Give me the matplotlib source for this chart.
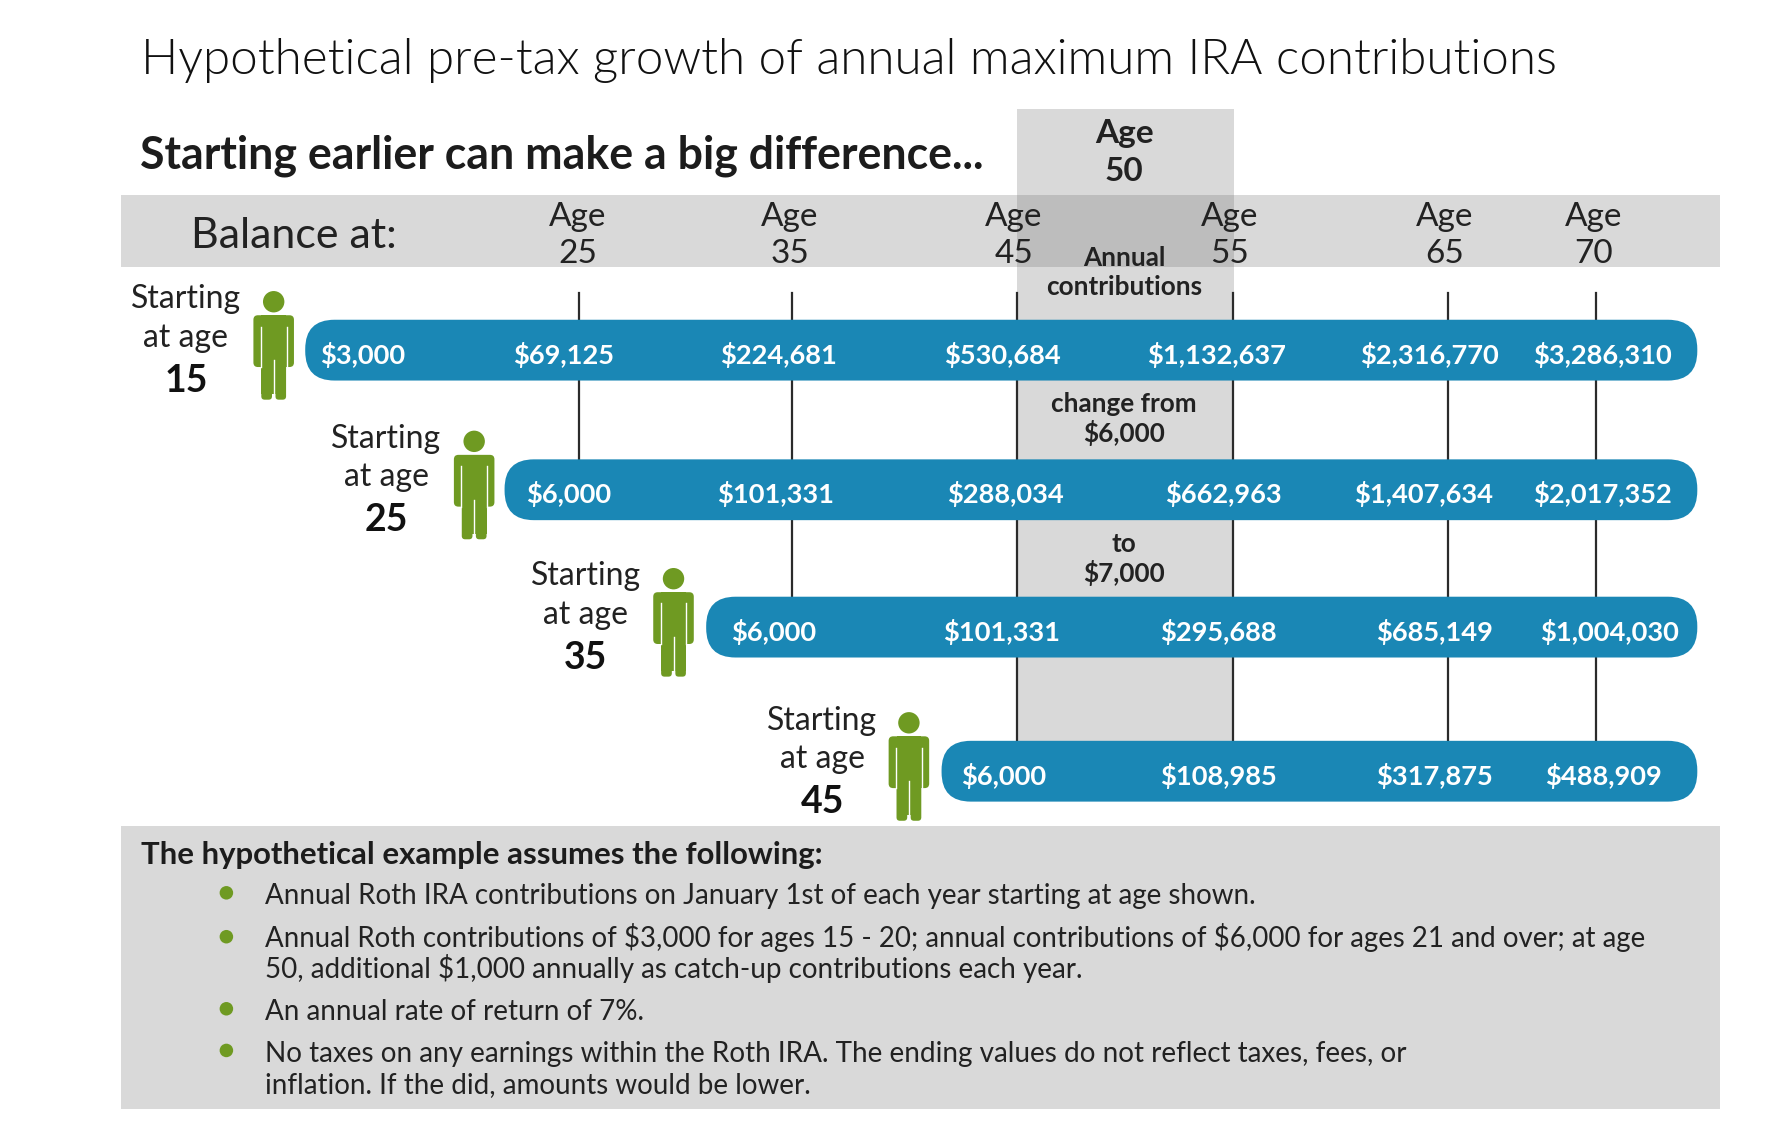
import matplotlib
matplotlib.use("Agg")
import matplotlib.pyplot as plt
from matplotlib.patches import Rectangle, FancyBboxPatch, Circle

plt.rcParams['font.family'] = ['Lato', 'DejaVu Sans']
plt.rcParams['text.parse_math'] = False

# data
title = "Hypothetical pre-tax growth of annual maximum IRA contributions"
subtitle = "Starting earlier can make a big difference..."
balance_ages = [25, 35, 45, 55, 65, 70]
start_ages = [15, 25, 35, 45]
balances_15 = [3000, 69125, 224681, 530684, 1132637, 2316770, 3286310]
balances_25 = [6000, 101331, 288034, 662963, 1407634, 2017352]
balances_35 = [6000, 101331, 295688, 685149, 1004030]
balances_45 = [6000, 108985, 317875, 488909]
notes_head = "The hypothetical example assumes the following:"
note_lines = [
    "Annual Roth IRA contributions on January 1st of each year starting at age shown.",
    "Annual Roth contributions of $3,000 for ages 15 - 20; annual contributions of $6,000 for ages 21 and over; at age",
    "50, additional $1,000 annually as catch-up contributions each year.",
    "An annual rate of return of 7%.",
    "No taxes on any earnings within the Roth IRA. The ending values do not reflect taxes, fees, or",
    "inflation. If the did, amounts would be lower.",
]

# layout, in pixels of the 1568 wide view
tick_x = [514, 703, 903, 1095, 1286, 1417]
head_x = [513, 701, 900, 1092, 1283, 1415]
tick_end = [408, 530, 658, 658, 658, 658]
bar_left = [271, 448, 627, 836]
bar_right = 1507
bar_y = [311, 435, 557, 685]
bar_h = 54
label_x = [
    [322, 500, 691, 890, 1080, 1269, 1423],
    [505, 689, 893, 1086, 1264, 1423],
    [687, 889, 1082, 1274, 1429],
    [891, 1082, 1274, 1424],
]
start_x = [165, 343, 520, 730]
icon_x = [243, 421, 598, 807]
line_y = [803, 841, 869, 906, 943, 971]
line_size = [20, 19.9, 20, 20, 20.05, 20]
dot_y = [793, 832, 896, 933]

BLUE = "#1a87b5"
GREEN = "#6f9a22"
GRAY = "#d9d9d9"
INK = "#222222"

fig = plt.figure(figsize=(17.66, 11.36), dpi=100)
ax = fig.add_axes([0, 0, 1, 1])
ax.set_xlim(0, 1568)
ax.set_ylim(1009, 0)
ax.axis("off")


def person(x, top):
    ax.add_patch(Circle((x, top + 10), 9.5, color=GREEN, lw=0))
    ax.add_patch(FancyBboxPatch((x - 18, top + 22), 36, 46, boxstyle="round,pad=0,rounding_size=4", fc=GREEN, lw=0))
    ax.add_patch(Rectangle((x - 11, top + 22), 22, 70, fc=GREEN, lw=0))
    ax.add_patch(FancyBboxPatch((x - 11, top + 60), 9.5, 37, boxstyle="round,pad=0,rounding_size=3", fc=GREEN, lw=0))
    ax.add_patch(FancyBboxPatch((x + 1.5, top + 60), 9.5, 37, boxstyle="round,pad=0,rounding_size=3", fc=GREEN, lw=0))
    ax.plot([x, x], [top + 62, top + 97], color="white", lw=1)
    ax.plot([x - 11.5, x - 11.5], [top + 32, top + 68], color="white", lw=1)
    ax.plot([x + 11.5, x + 11.5], [top + 32, top + 68], color="white", lw=1)


# gray bands
ax.add_patch(Rectangle((107, 173), 1420, 64, fc=GRAY, lw=0, zorder=1))
ax.add_patch(Rectangle((903, 97), 193, 561, fc=GRAY, lw=0, zorder=1))
ax.add_patch(Rectangle((903, 173), 193, 64, fc="#bdbdbd", lw=0, zorder=1.1))
ax.add_patch(Rectangle((107, 734), 1420, 251, fc=GRAY, lw=0, zorder=1))

# age lines
for x, end in zip(tick_x, tick_end):
    ax.plot([x, x], [260, end], color="#2b2b2b", lw=1.6, zorder=2)

ax.text(125, 54, title, fontsize=35.6, fontweight=300, color="#111111", va="center")
ax.text(124, 138, subtitle, fontsize=32.1, fontweight="bold", color="#1c1c1c", va="center")
ax.text(261, 210, "Balance at:", fontsize=31, color=INK, ha="center", va="center")

for x, age in zip(head_x, balance_ages):
    ax.text(x, 193, "Age", fontsize=24, color=INK, ha="center", va="center", zorder=3)
    ax.text(x, 226, str(age), fontsize=24, color=INK, ha="center", va="center", zorder=3)

ax.text(998, 119, "Age", fontsize=24, fontweight="bold", color=INK, ha="center", va="center", zorder=3)
ax.text(998, 152, "50", fontsize=24, fontweight="bold", color=INK, ha="center", va="center", zorder=3)
ax.text(998, 229, "Annual", fontsize=18.8, fontweight="bold", color=INK, ha="center", va="center", zorder=3)
ax.text(998, 255, "contributions", fontsize=18.8, fontweight="bold", color=INK, ha="center", va="center", zorder=3)
ax.text(998, 359, "change from", fontsize=18.8, fontweight="bold", color=INK, ha="center", va="center", zorder=3)
ax.text(998, 385, "$6,000", fontsize=18.8, fontweight="bold", color=INK, ha="center", va="center", zorder=3)
ax.text(998, 483, "to", fontsize=18.8, fontweight="bold", color=INK, ha="center", va="center", zorder=3)
ax.text(998, 509, "$7,000", fontsize=18.8, fontweight="bold", color=INK, ha="center", va="center", zorder=3)

rows = [balances_15, balances_25, balances_35, balances_45]
for i, vals in enumerate(rows):
    left, y = bar_left[i], bar_y[i]
    ax.add_patch(FancyBboxPatch((left, y - bar_h / 2), bar_right - left, bar_h,
                                boxstyle="round,pad=0,rounding_size=26", fc=BLUE, lw=0, zorder=4))
    for x, v in zip(label_x[i], vals):
        ax.text(x, y + 4, f"${v:,}", fontsize=19.6, fontweight="bold", color="white",
                ha="center", va="center", zorder=5)
    ax.text(start_x[i], y - 45, "Starting", fontsize=23, color=INK, ha="center", va="center")
    ax.text(start_x[i], y - 11, "at age", fontsize=23, color=INK, ha="center", va="center")
    ax.text(start_x[i], y + 27, str(start_ages[i]), fontsize=27, fontweight="bold", color="#111111",
            ha="center", va="center")
    person(icon_x[i], y - 53)

ax.text(125, 759, notes_head, fontsize=22.4, fontweight="bold", color="#1c1c1c", va="center")
for dy in dot_y:
    ax.add_patch(Circle((201, dy), 6, color=GREEN, lw=0, zorder=3))
for y, size, line in zip(line_y, line_size, note_lines):
    ax.text(235, y, line, fontsize=size, color=INK, va="baseline", zorder=3)

fig.savefig("out.png", dpi=100)
